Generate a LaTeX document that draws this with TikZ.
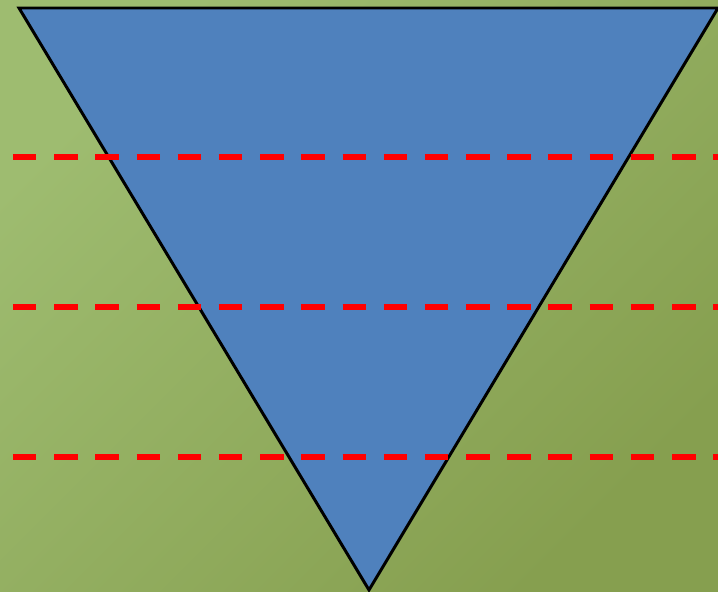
\documentclass[tikz,border=0pt]{standalone}
\usetikzlibrary{calc}
\definecolor{bgLight}{RGB}{158,188,112}
\definecolor{bgDark}{RGB}{134,159,79}
\definecolor{funnelBlue}{RGB}{79,129,189}
\definecolor{cutRed}{RGB}{255,0,0}

\begin{document}
\begin{tikzpicture}[
  x=0.02cm,y=-0.02cm,
  funnel/.style={fill=funnelBlue,draw=black,line width=1.7pt,line join=miter},
  cut/.style={draw=cutRed,line width=3.5pt,dash pattern=on 0.47cm off 0.354cm},
]
% background
\shade[left color=bgLight,right color=bgDark,shading angle=45] (0,0) rectangle (718,592);
\useasboundingbox (0,0) rectangle (718,592);
% corners of the triangle
\coordinate (tl) at (19,8);
\coordinate (tr) at (718,8);
\coordinate (tip) at (369,590);
\path[funnel] (tl) -- (tr) -- (tip) -- cycle;
% levels
\foreach \y/\name in {157/one,307/two,457/three}{
  \coordinate (\name-a) at (13,\y);
  \coordinate (\name-b) at (718,\y);
  \draw[cut] (\name-a) -- (\name-b);
}
\end{tikzpicture}
\end{document}
